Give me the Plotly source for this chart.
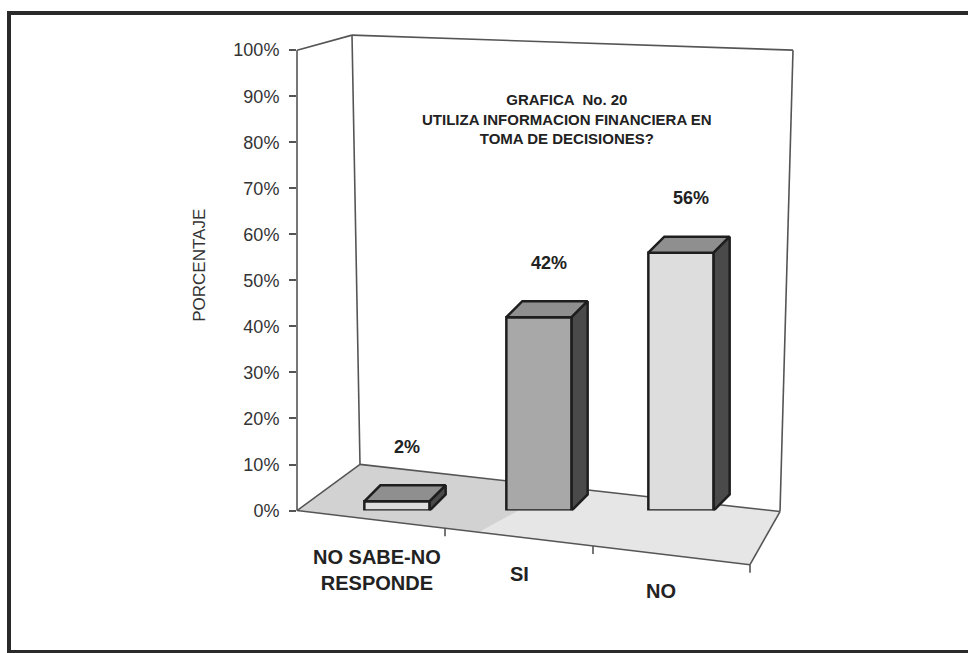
import plotly.graph_objects as go

# ---------------- data ----------------
categories = ["NO SABE-NO<br>RESPONDE", "SI", "NO"]
values = [2, 42, 56]
ytick_vals = [0, 10, 20, 30, 40, 50, 60, 70, 80, 90, 100]
ytick_text = [f"{v}%" for v in ytick_vals]
title_lines = ["GRAFICA  No. 20", "UTILIZA INFORMACION FINANCIERA EN", "TOMA DE DECISIONES?"]
y_title = "PORCENTAJE"

# ---------------- styles / geometry ----------------
W, H = 968, 653          # reference pixel space
H_LAYOUT = 665           # figure height
FONT = "Liberation Sans, Arial, Helvetica, sans-serif"
front_colors = ["#dedede", "#a8a8a8", "#dddddd"]
top_color = "#8f8f8f"
side_color = "#4a4a4a"
edge_color = "#1e1e1e"
wall_color = "#555555"

Y0_PX, TOP_PX, PX_PER_PCT = 509, 35, 4.59
X_LEFT_PX, X_RIGHT_PX, PX_PER_CAT, FIRST_CAT_PX = 297, 820, 142, 397
xmin = -(FIRST_CAT_PX - X_LEFT_PX) / PX_PER_CAT
xmax = xmin + (X_RIGHT_PX - X_LEFT_PX) / PX_PER_CAT
ymax = (Y0_PX - TOP_PX) / PX_PER_PCT

BAR_W = 0.46
DX = 16 / PX_PER_CAT
DY = 16 / PX_PER_PCT


def px(x):
    return x / W


def py(y):
    return 1 - y / H


xs = list(range(len(categories)))

fig = go.Figure()

# front faces
fig.add_trace(go.Bar(
    x=xs, y=values, width=BAR_W,
    marker=dict(color=front_colors, line=dict(color=edge_color, width=2.5)),
    showlegend=False, hoverinfo="skip",
))

# top and side faces (derived from values)
tx, ty, sx, sy = [], [], [], []
for i, v in zip(xs, values):
    l, r = i - BAR_W / 2, i + BAR_W / 2
    tx += [l, l + DX, r + DX, r, l, None]
    ty += [v, v + DY, v + DY, v, v, None]
    sx += [r, r + DX, r + DX, r, r, None]
    sy += [0, DY, v + DY, v, 0, None]
fig.add_trace(go.Scatter(x=tx, y=ty, mode="lines", fill="toself", fillcolor=top_color,
                         line=dict(color=edge_color, width=2.5), showlegend=False, hoverinfo="skip"))
fig.add_trace(go.Scatter(x=sx, y=sy, mode="lines", fill="toself", fillcolor=side_color,
                         line=dict(color=edge_color, width=2.5), showlegend=False, hoverinfo="skip"))

# value labels
fig.add_trace(go.Scatter(
    x=[i + 0.07 for i in xs], y=[v + DY + 8 for v in values],
    mode="text", text=[f"{v}%" for v in values],
    textfont=dict(family=FONT, size=18, color="#222222", weight="bold"),
    showlegend=False, hoverinfo="skip", cliponaxis=False,
))

shapes = []
# floor
floor_pts = [(297, 509), (750, 563), (780, 510), (360, 463)]
path = "M " + " L ".join(f"{px(a):.5f},{py(b):.5f}" for a, b in floor_pts) + " Z"
shapes.append(dict(type="path", path=path, xref="paper", yref="paper",
                   fillcolor="#d2d2d2", line=dict(width=0), layer="below"))
# lighter overlay toward front/right
floor2 = [(480, 530), (750, 563), (780, 510), (560, 486)]
path2 = "M " + " L ".join(f"{px(a):.5f},{py(b):.5f}" for a, b in floor2) + " Z"
shapes.append(dict(type="path", path=path2, xref="paper", yref="paper",
                   fillcolor="rgba(255,255,255,0.45)", line=dict(width=0), layer="below"))

wall_lines = [
    ((297, 50), (297, 509)),   # value axis
    ((297, 50), (352, 35)),    # left wall top
    ((352, 35), (793, 50)),    # back wall top
    ((352, 35), (360, 463)),   # back-left corner
    ((793, 50), (780, 510)),   # back-right corner
    ((360, 463), (780, 510)),  # floor back edge
    ((297, 509), (360, 463)),  # floor left edge
    ((297, 509), (750, 563)),  # floor front edge (category axis)
    ((750, 563), (780, 510)),  # floor right edge
]
for (a, b), (c, d) in wall_lines:
    shapes.append(dict(type="line", xref="paper", yref="paper",
                       x0=px(a), y0=py(b), x1=px(c), y1=py(d),
                       line=dict(color=wall_color, width=1.6), layer="below"))
# category axis ticks
slope = (563 - 509) / (750 - 297)
for tx_px in [445, 593, 750]:
    ty_px = 509 + (tx_px - 297) * slope
    shapes.append(dict(type="line", xref="paper", yref="paper",
                       x0=px(tx_px), y0=py(ty_px), x1=px(tx_px), y1=py(ty_px + 8),
                       line=dict(color=wall_color, width=1.6), layer="below"))
# outer frame
shapes.append(dict(type="rect", xref="paper", yref="paper",
                   x0=px(9), y0=py(650), x1=px(990), y1=py(13),
                   line=dict(color="#2a2a2a", width=4), fillcolor="rgba(0,0,0,0)"))

annotations = []
# title
annotations.append(dict(
    text="<br>".join(title_lines), xref="paper", yref="paper",
    x=px(567), y=py(119), xanchor="center", yanchor="middle", showarrow=False,
    font=dict(family=FONT, size=15, color="#222222", weight="bold"), align="center",
))
# y axis title
annotations.append(dict(
    text=y_title, xref="paper", yref="paper", x=px(200), y=py(265),
    textangle=-90, showarrow=False, xanchor="center", yanchor="middle",
    font=dict(family=FONT, size=17, color="#333333"),
))
# category labels along the tilted front edge
for i, cat in enumerate(categories):
    cx = FIRST_CAT_PX + PX_PER_CAT * i - 20
    edge_y = 509 + (cx - 297) * slope
    annotations.append(dict(
        text=cat, xref="x", x=i, xshift=-20, yref="paper", y=py(edge_y + 24),
        xanchor="center", yanchor="top", showarrow=False, align="center",
        font=dict(family=FONT, size=20, color="#222222", weight="bold"),
    ))

fig.update_layout(
    width=W, height=H_LAYOUT,
    margin=dict(l=0, r=0, t=0, b=0),
    paper_bgcolor="white", plot_bgcolor="rgba(0,0,0,0)",
    xaxis=dict(domain=[px(X_LEFT_PX), px(X_RIGHT_PX)], range=[xmin, xmax],
               visible=False, fixedrange=True),
    yaxis=dict(domain=[py(Y0_PX), py(TOP_PX)], range=[0, ymax],
               tickvals=ytick_vals, ticktext=ytick_text,
               ticks="outside", ticklen=7, tickwidth=1.6, tickcolor=wall_color,
               showline=False, showgrid=False, zeroline=False,
               ticklabelstandoff=6,
               tickfont=dict(family=FONT, size=18, color="#333333"), fixedrange=True),
    shapes=shapes, annotations=annotations,
    bargap=0.5,
)

fig.write_html(
    "out.html",
    config={"displayModeBar": False, "responsive": False},
    post_script=(
        "document.documentElement.style.margin='0px';"
        "document.documentElement.style.padding='0px';"
        "document.documentElement.style.overflow='hidden';"
        "document.body.style.margin='0px';"
        "document.body.style.padding='0px';"
        "document.body.style.overflow='hidden';"
    ),
)
